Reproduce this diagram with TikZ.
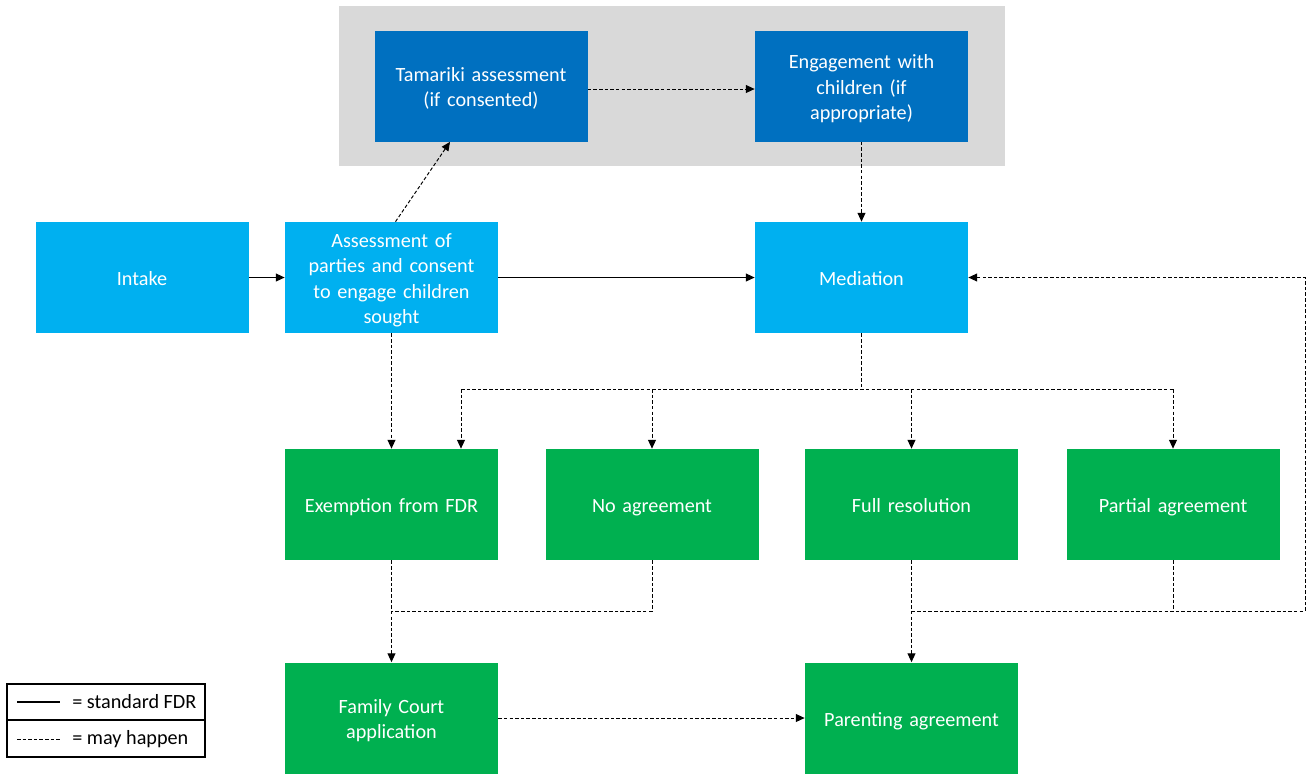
\documentclass[tikz,border=0pt]{standalone}
\usepackage{fontspec}
\setmainfont{Carlito}
\usetikzlibrary{arrows.meta,calc}

\definecolor{darkblue}{HTML}{0070C0}
\definecolor{lightblue}{HTML}{00B0F0}
\definecolor{fdrgreen}{HTML}{00B050}
\definecolor{panelgray}{HTML}{D9D9D9}

\begin{document}
\begin{tikzpicture}[
        stage/.style={rectangle, text=white, text width=3.9cm, align=center, minimum width=4.26cm, minimum height=2.22cm, inner sep=0pt, font=\fontsize{11.5}{14.5}\selectfont, execute at begin node={\rule{0pt}{13.5pt}}, execute at end node=\strut},
        child/.style={stage, fill=darkblue},
        process/.style={stage, fill=lightblue},
        outcome/.style={stage, fill=fdrgreen},
        standard/.style={line width=0.6pt, -{Triangle[length=5pt,width=4.5pt]}},
        maybe/.style={line width=0.55pt, dash pattern=on 2pt off 1.2pt},
        maybearrow/.style={maybe, -{Triangle[length=5pt,width=4.5pt]}},
        legendtext/.style={font=\fontsize{11.5}{13}\selectfont, anchor=west, inner sep=0pt}
    ]
        \useasboundingbox (0,0) rectangle (26.18,-15.46);

        % Grey panel behind the children steps
        \fill[panelgray] (6.78,-0.12) rectangle (20.10,-3.32);

        % Children steps
        \node[child] (tama) at (9.62,-1.72) {Tamariki assessment\\(if consented)};
        \node[child] (engage) at (17.23,-1.72) {Engagement with\\children (if\\appropriate)};

        % Main process
        \node[process] (intake) at (2.84,-5.55) {Intake};
        \node[process] (assess) at (7.83,-5.55) {Assessment of\\parties and consent\\to engage children\\sought};
        \node[process] (med) at (17.23,-5.55) {Mediation};

        % Outcomes
        \node[outcome] (exempt) at (7.83,-10.09) {Exemption from FDR};
        \node[outcome] (noagr) at (13.04,-10.09) {No agreement};
        \node[outcome] (fullres) at (18.23,-10.09) {Full resolution};
        \node[outcome] (partial) at (23.46,-10.09) {Partial agreement};

        % Final steps
        \node[outcome] (family) at (7.83,-14.36) {Family Court\\application};
        \node[outcome] (parent) at (18.23,-14.36) {Parenting agreement};

        % Junction points
        \coordinate (mj) at (17.23,-7.78);
        \coordinate (mleft) at (9.22,-7.78);
        \coordinate (mright) at (23.46,-7.78);
        \coordinate (lj) at (7.83,-12.22);
        \coordinate (rj) at (18.23,-12.22);
        \coordinate (loop) at (26.10,-12.22);

        % Standard connections
        \draw[standard] (intake) -- (assess);
        \draw[standard] (assess) -- (med);

        % Possible connections
        \draw[maybearrow] ([xshift=0.08cm]assess.north) -- ([xshift=-0.62cm]tama.south);
        \draw[maybearrow] (tama.east |- 0,-1.78) -- (engage.west |- 0,-1.78);
        \draw[maybearrow] (engage) -- (med);
        \draw[maybearrow] (assess) -- (exempt);
        \draw[maybe] (med.south) -- (mj);
        \draw[maybe] (mleft) -- (mright);
        \draw[maybearrow] (mleft) -- (mleft |- exempt.north);
        \draw[maybearrow] (noagr.north |- mj) -- (noagr.north);
        \draw[maybearrow] (fullres.north |- mj) -- (fullres.north);
        \draw[maybearrow] (mright) -- (partial.north);
        \draw[maybearrow] (exempt) -- (family);
        \draw[maybe] (noagr.south) |- (lj);
        \draw[maybearrow] (fullres) -- (parent);
        \draw[maybe] (partial.south) -- (partial.south |- rj);
        \draw[maybearrow] (rj) -- (loop) |- (med.east);
        \draw[maybearrow] (family) -- (parent);

        % Legend
        \draw[line width=0.6pt] (0.14,-13.68) rectangle (4.10,-15.14);
        \draw[line width=0.6pt] (0.14,-14.40) -- (4.10,-14.40);
        \draw[line width=0.6pt] (0.34,-14.04) -- (1.20,-14.04);
        \draw[maybe] (0.34,-14.78) -- (1.20,-14.78);
        \node[legendtext] (std) at (1.44,-14.04) {= standard FDR};
        \node[legendtext] (may) at (1.44,-14.78) {= may happen};

    \end{tikzpicture}
\end{document}
